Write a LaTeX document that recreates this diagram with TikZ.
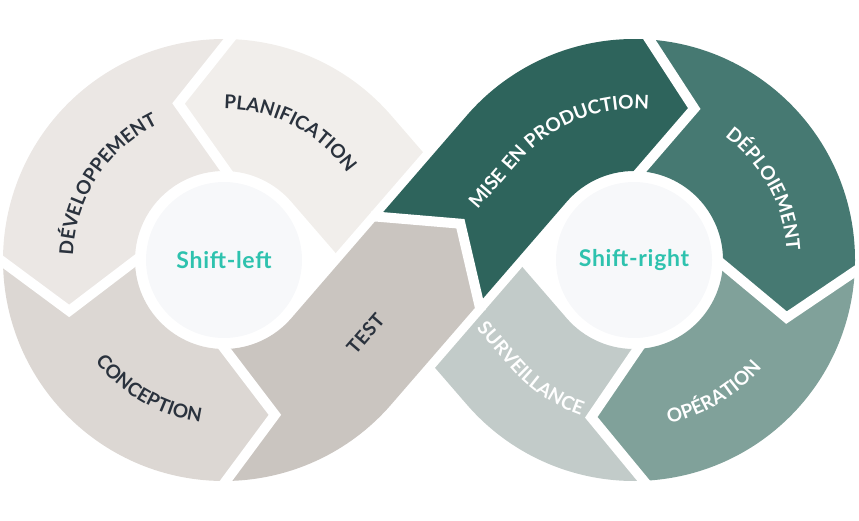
\documentclass[tikz,border=0pt]{standalone}
\usepackage{fontspec}
\setmainfont{Lato}
\newfontfamily\labelfont[LetterSpace=3]{Lato}
\usepackage{xcolor}
\usepackage{tikz}
\usetikzlibrary{calc,decorations.text}

\definecolor{plan}{HTML}{F1EEEB}
\definecolor{dev}{HTML}{EBE7E4}
\definecolor{conc}{HTML}{DCD7D3}
\definecolor{test}{HTML}{CAC5C0}
\definecolor{mise}{HTML}{2E645C}
\definecolor{depl}{HTML}{467972}
\definecolor{oper}{HTML}{80A19A}
\definecolor{surv}{HTML}{C2CBC9}
\definecolor{hubfill}{HTML}{F7F8FA}
\definecolor{ink}{HTML}{2A323D}
\definecolor{shiftteal}{HTML}{2EC2AE}

\newcommand{\darklbl}{\labelfont\bfseries\fontsize{19}{19}\selectfont\color{ink}}
\newcommand{\lightlbl}{\labelfont\bfseries\fontsize{19}{19}\selectfont\color{white}}

\begin{document}
\begin{tikzpicture}[
  x=1pt, y=1pt,
  gap/.style={draw=white, line width=10pt, line join=miter},
  halo/.style={draw=white, line width=150pt},
  hub/.style={circle, fill=hubfill, minimum size=156pt, inner sep=0pt, text=shiftteal,
    font=\labelfont\bfseries\fontsize{23}{23}\selectfont},
  onpath/.style={decorate, decoration={text along path, text align=center, text={#1}}}
]
\useasboundingbox (0,0) rectangle (859,-520);

\coordinate (left) at (224,-260);
\coordinate (right) at (634,-260);
\coordinate (cross) at (429,-260);

% left loop
\fill[plan] ($(cross)+(40.87:66)$) -- ($(left)+(40.87:221)$) arc[start angle=40.87, end angle=88.5, radius=221]
  -- ($(left)+(106.2:163)$) -- ($(left)+(88.5:89)$) arc[start angle=88.5, end angle=40.87, radius=89]
  -- ($(cross)+(220.87:66)$) -- cycle;
\fill[dev] ($(left)+(88.5:221)$) arc[start angle=88.5, end angle=180.5, radius=221]
  -- ($(left)+(198.2:163)$) -- ($(left)+(180.5:89)$) arc[start angle=180.5, end angle=88.5, radius=89]
  -- ($(left)+(106.2:163)$) -- cycle;
\fill[conc] ($(left)+(180.5:221)$) arc[start angle=180.5, end angle=270.5, radius=221]
  -- ($(left)+(288.2:163)$) -- ($(left)+(270.5:89)$) arc[start angle=270.5, end angle=180.5, radius=89]
  -- ($(left)+(198.2:163)$) -- cycle;

% right loop
\fill[depl] ($(right)+(86:221)$) arc[start angle=86, end angle=-3, radius=221]
  -- ($(right)+(-20.7:163)$) -- ($(right)+(-3:89)$) arc[start angle=-3, end angle=86, radius=89]
  -- ($(right)+(68.3:163)$) -- cycle;
\fill[oper] ($(right)+(-3:221)$) arc[start angle=-3, end angle=-87.5, radius=221]
  -- ($(right)+(-105.2:163)$) -- ($(right)+(-87.5:89)$) arc[start angle=-87.5, end angle=-3, radius=89]
  -- ($(right)+(-20.7:163)$) -- cycle;
\fill[surv] ($(right)+(-87.5:221)$) arc[start angle=-87.5, end angle=-139.13, radius=221]
  -- ($(cross)+(220.87:66)$) -- ($(cross)+(40.87:66)$)
  -- ($(right)+(-139.13:89)$) arc[start angle=-139.13, end angle=-87.5, radius=89]
  -- ($(right)+(-105.2:163)$) -- cycle;

% band on top at the crossing
\draw[halo] ($(cross)+(229.13:100)$) -- ($(cross)+(49.13:100)$);
\fill[test] ($(left)+(270.5:221)$) arc[start angle=270.5, end angle=319.13, radius=221]
  -- ($(cross)+(-40.87:66)$) -- ($(cross)+(49.13:48)$) -- ($(cross)+(139.13:66)$)
  -- ($(left)+(319.13:89)$) arc[start angle=319.13, end angle=270.5, radius=89]
  -- ($(left)+(288.2:163)$) -- cycle;
\fill[mise] ($(cross)+(139.13:66)$) -- ($(right)+(139.13:221)$) arc[start angle=139.13, end angle=86, radius=221]
  -- ($(right)+(68.3:163)$) -- ($(right)+(86:89)$) arc[start angle=86, end angle=139.13, radius=89]
  -- ($(cross)+(-40.87:66)$) -- ($(cross)+(49.13:48)$) -- cycle;

% white gaps between the steps
\foreach \c/\a/\s in {left/88.5/1, left/180.5/1, left/270.5/1, right/86/-1, right/-3/-1, right/272.5/-1} {
  \coordinate (o) at ($(\c)+(\a:221)$);
  \coordinate (t) at ($(\c)+({\a+\s*17.7}:163)$);
  \coordinate (i) at ($(\c)+(\a:89)$);
  \draw[gap] ($(o)!-0.15!(t)$) -- (t) -- ($(i)!-0.15!(t)$);
}
\coordinate (ta) at ($(cross)+(139.13:66)$);
\coordinate (tt) at ($(cross)+(49.13:48)$);
\coordinate (tb) at ($(cross)+(-40.87:66)$);
\draw[gap] ($(ta)!-0.1!(tt)$) -- (tt) -- ($(tb)!-0.1!(tt)$);

% hubs
\node[hub] (lefthub) at (left) {Shift-left};
\node[hub] (righthub) at (right) {Shift-right};

% labels
\path[onpath={|\darklbl|D{É}VELOPPEMENT}] ($(left)+(197:151)$) arc[start angle=197, end angle=97, radius=151];
\path[onpath={|\darklbl|PLANIFICATION}] ($(left)+(112.6:151)$) arc[start angle=112.6, end angle=12.6, radius=151];
\path[onpath={|\darklbl|CONCEPTION}] ($(left)+(190:164)$) arc[start angle=190, end angle=290, radius=164];
\node[rotate=49.13, font=\darklbl] (testlbl) at ($(cross)+(229.13:97)$) {TEST};
\path[onpath={|\lightlbl|MISE EN PRODUCTION}] ($(right)+(139.13:151)+(229.13:100)$) -- ($(right)+(139.13:151)$)
  arc[start angle=139.13, end angle=70.9, radius=151];
\path[onpath={|\lightlbl|D{É}PLOIEMENT}] ($(right)+(78.5:153)$) arc[start angle=78.5, end angle=-21.5, radius=153];
\path[onpath={|\lightlbl|OP{É}RATION}] ($(right)+(-109:167)$) arc[start angle=-109, end angle=-9, radius=167];
\path[onpath={|\lightlbl|SURVEILLANCE}] ($(right)+(220.87:164)+(130.87:60)$) -- ($(right)+(220.87:164)$)
  arc[start angle=220.87, end angle=254.1, radius=164];
\end{tikzpicture}
\end{document}
